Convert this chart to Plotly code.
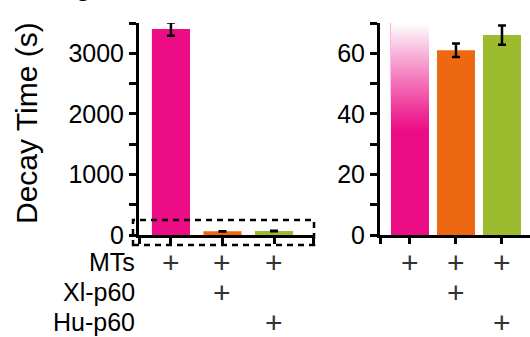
import plotly.graph_objects as go

# ---------------- data ----------------
categories = ["MTs", "MTs + Xl-p60", "MTs + Hu-p60"]
decay_time = [3400, 61, 66]
decay_err = [110, 2.2, 3.2]

row_labels = ["MTs", "Xl-p60", "Hu-p60"]
mts_present = [1, 1, 1]
xl_p60_present = [0, 1, 0]
hu_p60_present = [0, 0, 1]

left_tickvals = [0, 500, 1000, 1500, 2000, 2500, 3000, 3500]
left_ticktext = ["0", "", "1000", "", "2000", "", "3000", ""]
right_tickvals = [0, 10, 20, 30, 40, 50, 60, 70]
right_ticktext = ["0", "", "20", "", "40", "", "60", ""]

bar_colors = ["#EC0C85", "#EE6711", "#9DBB2F"]

# ---------------- layout constants ----------------
W, H = 530, 337
FONT = "Liberation Sans, Arial, Helvetica, sans-serif"
plot_top, plot_bottom = 23, 235
left_x0, left_x1 = 139, 313
right_x0 = 380
ydom = [(H - plot_bottom) / H, (H - plot_top) / H]
left_range_x = [-0.62, 2.757]
right_range_x = [-0.652, 2.609]
left_ymax = 3500
right_ymax = 70
fade_start = 34  # where the broken bar starts to fade

pos = list(range(len(categories)))

fig = go.Figure()

# left panel bars
fig.add_trace(go.Bar(
    x=pos, y=decay_time, width=0.74,
    marker=dict(color=bar_colors, line=dict(width=0)),
    error_y=dict(type="data", array=decay_err, color="black", thickness=2.5, width=4),
    xaxis="x", yaxis="y", hoverinfo="skip", showlegend=False,
))

# right panel bars (first bar runs off the top of the axis)
fig.add_trace(go.Bar(
    x=pos, y=decay_time, width=0.826,
    marker=dict(color=bar_colors, line=dict(width=0)),
    error_y=dict(type="data", array=decay_err, color="black", thickness=2.5, width=4),
    xaxis="x2", yaxis="y2", hoverinfo="skip", showlegend=False,
))

# fade of the broken bar in the right panel: stacked layers, each reaching the top
def hex_to_rgb(h):
    h = h.lstrip("#")
    return tuple(int(h[i:i + 2], 16) for i in (0, 2, 4))

n_seg = 48
step = (right_ymax - fade_start) / n_seg
pr, pg, pb = hex_to_rgb(bar_colors[0])
seg_base, seg_h, seg_col = [], [], []
for k in range(n_seg):
    t = (k + 0.5) / n_seg
    w = t ** 1.1
    b = fade_start + k * step
    seg_base.append(b)
    seg_h.append(right_ymax - b)
    seg_col.append("rgb(%d,%d,%d)" % (pr + (255 - pr) * w, pg + (255 - pg) * w, pb + (255 - pb) * w))
fig.add_trace(go.Bar(
    x=[pos[0]] * n_seg, y=seg_h, base=seg_base, width=0.826,
    marker=dict(color=seg_col, line=dict(width=0)),
    xaxis="x2", yaxis="y2", hoverinfo="skip", showlegend=False,
))

axis_common = dict(
    showline=True, linecolor="black", linewidth=3,
    ticks="outside", tickcolor="black", tickwidth=3,
    showgrid=False, zeroline=False, fixedrange=True, automargin=False,
)

fig.update_layout(
    template="none",
    width=W, height=H, autosize=False,
    margin=dict(l=0, r=0, t=0, b=0, pad=0),
    paper_bgcolor="white", plot_bgcolor="white",
    barmode="overlay",
    font=dict(family=FONT, size=25, color="black"),
    xaxis=dict(domain=[left_x0 / W, left_x1 / W], range=left_range_x,
               tickmode="array", tickvals=[left_range_x[0]] + pos + [left_range_x[1]],
               showticklabels=False, ticklen=6, anchor="y", **axis_common),
    yaxis=dict(domain=ydom, range=[0, left_ymax], tickmode="array",
               tickvals=left_tickvals, ticktext=left_ticktext, ticklen=7,
               tickfont=dict(size=25), anchor="x", **axis_common),
    xaxis2=dict(domain=[right_x0 / W, 1.0], range=right_range_x,
                tickmode="array", tickvals=[right_range_x[0]] + pos,
                showticklabels=False, ticklen=6, anchor="y2", **axis_common),
    yaxis2=dict(domain=ydom, range=[0, right_ymax], tickmode="array",
                tickvals=right_tickvals, ticktext=right_ticktext, ticklen=7,
                tickfont=dict(size=25), anchor="x2", **axis_common),
)

annotations = []
# y-axis title
annotations.append(dict(
    text="Decay Time (s)", textangle=-90, showarrow=False,
    xref="paper", yref="paper", x=27 / W, y=(H - 123) / H,
    xanchor="center", yanchor="middle", font=dict(size=30, color="black"),
))
# descender of a cut-off heading above the chart
annotations.append(dict(
    text="g", showarrow=False, xref="paper", yref="paper",
    x=83.5 / W, y=(H - 3) / H, xanchor="center", yanchor="bottom",
    font=dict(size=30, color="black"),
))

# condition rows
row_y0, row_dy = 262, 30
presence = [mts_present, xl_p60_present, hu_p60_present]
for r, label in enumerate(row_labels):
    yp = (H - (row_y0 + r * row_dy)) / H
    annotations.append(dict(
        text=label, showarrow=False, xref="paper", yref="paper",
        x=137 / W, y=yp, xanchor="right", yanchor="middle",
        font=dict(size=25, color="black"),
    ))
    for xref in ("x", "x2"):
        for i, p in enumerate(presence[r]):
            if p:
                annotations.append(dict(
                    text="+", showarrow=False, xref=xref, yref="paper",
                    x=pos[i], y=yp, xanchor="center", yanchor="middle",
                    font=dict(size=30, color="#333333"), borderpad=0,
                ))
fig.update_layout(annotations=annotations)

# dashed zoom box around the low part of the left panel
fig.add_shape(
    type="rect", xref="paper", yref="paper",
    x0=133 / W, x1=314 / W, y0=(H - 245) / H, y1=(H - 220) / H,
    line=dict(color="black", width=2.5, dash="6px,5px"),
    fillcolor="rgba(0,0,0,0)", layer="above",
)

post = (
    "document.documentElement.style.overflow='hidden';"
    "document.body.style.margin='0';"
    "document.body.style.overflow='hidden';"
)
fig.write_html("out.html", post_script=post, config={"displayModeBar": False})
